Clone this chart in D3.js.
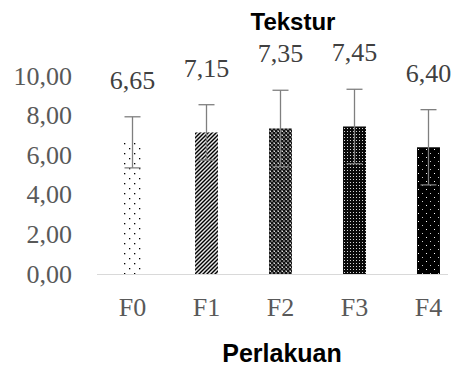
<!DOCTYPE html>
<html>
<head>
<meta charset="utf-8">
<script src="https://cdn.jsdelivr.net/npm/d3@7"></script>
<style>
  body { margin: 0; background: #fff; }
  svg { display: block; }
  .tick-label, .value-label, .cat-label { font-family: "Liberation Serif", "Times New Roman", serif; }
  .chart-title, .axis-title { font-family: "Liberation Sans", Arial, sans-serif; font-weight: bold; }
</style>
</head>
<body>
<div id="chart"></div>
<script>
const categories = ["F0", "F1", "F2", "F3", "F4"];
const means      = [6.65, 7.15, 7.35, 7.45, 6.40];
const errors     = [1.29, 1.40, 1.93, 1.88, 1.90];
const meanLabels = ["6,65", "7,15", "7,35", "7,45", "6,40"];
const yTicks     = [0, 2, 4, 6, 8, 10];
const patternIds = ["p-dots", "p-diag", "p-check", "p-dense", "p-dark"];

const W = 458, H = 366;
const M = { top: 76, left: 97 };
const innerHeight = 198;
const innerWidth  = 351;

const svg = d3.select("#chart").append("svg")
  .attr("width", W)
  .attr("height", H);

// fill patterns, roughly like Excel's pattern fills
const defs = svg.append("defs");

const pDots = defs.append("pattern").attr("id", "p-dots")
  .attr("patternUnits", "userSpaceOnUse").attr("width", 10).attr("height", 10);
pDots.append("rect").attr("width", 10).attr("height", 10).attr("fill", "#fff");
pDots.append("rect").attr("x", 2).attr("y", 2).attr("width", 1.3).attr("height", 1.3).attr("fill", "#000");
pDots.append("rect").attr("x", 7).attr("y", 7).attr("width", 1.3).attr("height", 1.3).attr("fill", "#000");

const pDiag = defs.append("pattern").attr("id", "p-diag")
  .attr("patternUnits", "userSpaceOnUse").attr("width", 4).attr("height", 4);
pDiag.append("rect").attr("width", 4).attr("height", 4).attr("fill", "#e8e8e8");
pDiag.append("path").attr("d", "M-1,1 L1,-1 M0,4 L4,0 M3,5 L5,3")
  .attr("stroke", "#000").attr("stroke-width", 1.4);

const pCheck = defs.append("pattern").attr("id", "p-check")
  .attr("patternUnits", "userSpaceOnUse").attr("width", 4).attr("height", 4);
pCheck.append("rect").attr("width", 4).attr("height", 4).attr("fill", "#6a6a6a");
pCheck.append("rect").attr("x", 0).attr("y", 0).attr("width", 2).attr("height", 2).attr("fill", "#111");
pCheck.append("rect").attr("x", 2).attr("y", 2).attr("width", 2).attr("height", 2).attr("fill", "#111");
pCheck.append("rect").attr("x", 1).attr("y", 3).attr("width", 1).attr("height", 1).attr("fill", "#ddd");

const pDense = defs.append("pattern").attr("id", "p-dense")
  .attr("patternUnits", "userSpaceOnUse").attr("width", 3).attr("height", 3);
pDense.append("rect").attr("width", 3).attr("height", 3).attr("fill", "#0a0a0a");
pDense.append("rect").attr("x", 1).attr("y", 1).attr("width", 1).attr("height", 1).attr("fill", "#d8d8d8");

const pDark = defs.append("pattern").attr("id", "p-dark")
  .attr("patternUnits", "userSpaceOnUse").attr("width", 8).attr("height", 8);
pDark.append("rect").attr("width", 8).attr("height", 8).attr("fill", "#000");
pDark.append("rect").attr("x", 1).attr("y", 1).attr("width", 1).attr("height", 1).attr("fill", "#fff");
pDark.append("rect").attr("x", 5).attr("y", 5).attr("width", 1).attr("height", 1).attr("fill", "#ccc");

const g = svg.append("g")
  .attr("transform", `translate(${M.left},${M.top})`);

const x = d3.scaleBand()
  .domain(categories)
  .range([-1.5, 368.5])
  .paddingInner(0.69)
  .paddingOuter(0.345);

const y = d3.scaleLinear()
  .domain([0, 10])
  .range([innerHeight, 0]);

const data = categories.map((c, i) => ({
  cat: c, mean: means[i], err: errors[i], label: meanLabels[i], pat: patternIds[i]
}));

// y tick labels (no axis line, no gridlines)
g.selectAll(".tick-label")
  .data(yTicks)
  .join("text")
    .attr("class", "tick-label")
    .attr("x", -25)
    .attr("y", d => y(d))
    .attr("dy", "0.33em")
    .attr("text-anchor", "end")
    .attr("font-size", 26)
    .attr("fill", "#595959")
    .text(d => d3.format(".2f")(d).replace(".", ","));

// bars
g.selectAll(".bar")
  .data(data)
  .join("rect")
    .attr("class", "bar")
    .attr("x", d => x(d.cat))
    .attr("y", d => y(d.mean))
    .attr("width", x.bandwidth())
    .attr("height", d => innerHeight - y(d.mean))
    .attr("fill", d => `url(#${d.pat})`);

// baseline
g.append("line")
  .attr("x1", 0).attr("x2", innerWidth)
  .attr("y1", innerHeight + 0.5).attr("y2", innerHeight + 0.5)
  .attr("stroke", "#d9d9d9")
  .attr("stroke-width", 1);

// error bars
const cap = 8;
const eb = g.selectAll(".errbar")
  .data(data)
  .join("g")
    .attr("class", "errbar")
    .attr("stroke", "#7f7f7f")
    .attr("stroke-width", 1.3);

eb.append("line")
  .attr("x1", d => x(d.cat) + x.bandwidth() / 2)
  .attr("x2", d => x(d.cat) + x.bandwidth() / 2)
  .attr("y1", d => y(d.mean + d.err))
  .attr("y2", d => y(d.mean - d.err));
eb.append("line")
  .attr("x1", d => x(d.cat) + x.bandwidth() / 2 - cap)
  .attr("x2", d => x(d.cat) + x.bandwidth() / 2 + cap)
  .attr("y1", d => y(d.mean + d.err))
  .attr("y2", d => y(d.mean + d.err));
eb.append("line")
  .attr("x1", d => x(d.cat) + x.bandwidth() / 2 - cap)
  .attr("x2", d => x(d.cat) + x.bandwidth() / 2 + cap)
  .attr("y1", d => y(d.mean - d.err))
  .attr("y2", d => y(d.mean - d.err));

// value labels above error bars
g.selectAll(".value-label")
  .data(data)
  .join("text")
    .attr("class", "value-label")
    .attr("x", d => x(d.cat) + x.bandwidth() / 2)
    .attr("y", d => y(d.mean + d.err) - 28)
    .attr("text-anchor", "middle")
    .attr("font-size", 26)
    .attr("fill", "#404040")
    .text(d => d.label);

// category labels
g.selectAll(".cat-label")
  .data(data)
  .join("text")
    .attr("class", "cat-label")
    .attr("x", d => x(d.cat) + x.bandwidth() / 2)
    .attr("y", innerHeight + 42)
    .attr("text-anchor", "middle")
    .attr("font-size", 26)
    .attr("fill", "#595959")
    .text(d => d.cat);

svg.append("text")
  .attr("class", "chart-title")
  .attr("x", 293)
  .attr("y", 30)
  .attr("text-anchor", "middle")
  .attr("font-size", 24)
  .attr("fill", "#000")
  .text("Tekstur");

svg.append("text")
  .attr("class", "axis-title")
  .attr("x", 282)
  .attr("y", 362)
  .attr("text-anchor", "middle")
  .attr("font-size", 25)
  .attr("fill", "#000")
  .text("Perlakuan");
</script>
</body>
</html>
